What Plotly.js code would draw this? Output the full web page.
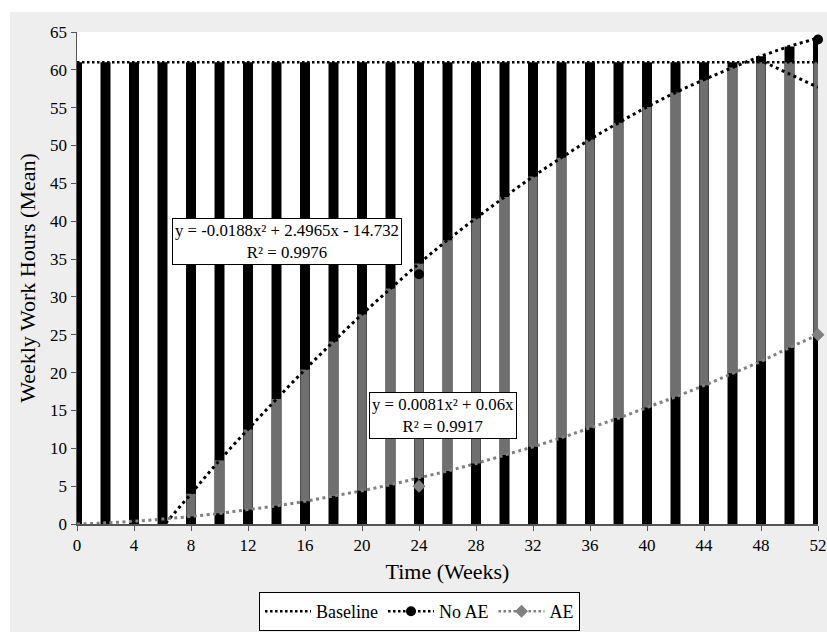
<!DOCTYPE html>
<html>
<head>
<meta charset="utf-8">
<script src="https://cdn.plot.ly/plotly-3.0.1.min.js"></script>
<style>
  html, body { margin: 0; padding: 0; background: #ffffff; width: 827px; height: 632px; overflow: hidden; }
  #chart { position: absolute; left: 10px; top: 12px; width: 817px; height: 620px; }
</style>
</head>
<body>
<div id="chart"></div>
<script>
// ---- data ----
const weeks = [0,2,4,6,8,10,12,14,16,18,20,22,24,26,28,30,32,34,36,38,40,42,44,46,48,50,52];
const baseline = [61,61,61,61,61,61,61,61,61,61,61,61,61,61,61,61,61,61,61,61,61,61,61,61,61,61,61];
// No AE fitted curve (y = -0.0188x² + 2.4965x - 14.732), values read at each week
const noAETrend = [-14.7,-9.8,-5.0,-0.4,4.0,8.4,12.5,16.5,20.4,24.1,27.7,31.1,34.4,37.5,40.4,43.2,45.9,48.4,50.8,53.0,55.1,57.0,58.7,60.3,61.8,63.1,64.2];
// AE fitted curve (y = 0.0081x² + 0.06x), values read at each week
const aeTrend = [0,0.15,0.37,0.65,1.0,1.4,1.9,2.4,3.0,3.7,4.4,5.2,6.1,7.0,8.0,9.1,10.2,11.4,12.7,14.0,15.4,16.8,18.3,19.9,21.5,23.3,25.0];
// observed means (blank = no observation)
const noAE = [null,null,null,null,null,null,null,null,null,null,null,null,33,null,null,null,null,null,null,null,null,null,null,null,null,null,64];
const ae   = [null,null,null,null,null,null,null,null,null,null,null,null,5,null,null,null,null,null,null,null,null,null,null,null,null,null,25];
// short descending dotted segment near the end
const tailX = [47.8, 52];
const tailY = [61.4, 57.7];
const xTicks = [0,4,8,12,16,20,24,28,32,36,40,44,48,52];
const yTicks = [0,5,10,15,20,25,30,35,40,45,50,55,60,65];
const eq1 = 'y = -0.0188x² + 2.4965x - 14.732<br>R² = 0.9976';
const eq2 = 'y = 0.0081x² + 0.06x<br>R² = 0.9917';

// ---- derived bar geometry ----
const blackTop = weeks.map((w, i) => Math.max(baseline[i], noAETrend[i]));
const greyTop = weeks.map((w, i) => Math.min(baseline[i], noAETrend[i]));
const greyBase = aeTrend.slice();
const greyH = weeks.map((w, i) => Math.max(0, greyTop[i] - greyBase[i]));

const FONT = 'Liberation Serif, Times New Roman, serif';

const traces = [
  { type: 'bar', x: weeks, y: blackTop, base: 0, width: 0.7,
    marker: { color: '#000000', line: { width: 0 } }, showlegend: false, hoverinfo: 'skip' },
  { type: 'bar', x: weeks, y: greyH, base: greyBase, width: 0.66,
    marker: { color: '#6f6f6f', line: { width: 0 } }, showlegend: false, hoverinfo: 'skip' },
  { type: 'scatter', mode: 'lines', x: weeks, y: baseline, name: 'Baseline',
    line: { color: '#000000', width: 2.5, dash: '2.5px,2.5px' } },
  { type: 'scatter', mode: 'lines', x: weeks, y: noAETrend, showlegend: false,
    line: { color: '#000000', width: 3, dash: '3px,3.5px', shape: 'spline' } },
  { type: 'scatter', mode: 'lines', x: tailX, y: tailY, showlegend: false,
    line: { color: '#000000', width: 3, dash: '3px,3.5px' } },
  { type: 'scatter', mode: 'lines', x: weeks, y: aeTrend, showlegend: false,
    line: { color: '#808080', width: 3, dash: '3px,3.5px', shape: 'spline' } },
  { type: 'scatter', mode: 'lines+markers', x: weeks, y: noAE, name: 'No AE', connectgaps: false,
    cliponaxis: false,
    line: { color: '#000000', width: 2.5, dash: '2.5px,2.5px' },
    marker: { color: '#000000', size: 10, symbol: 'circle' } },
  { type: 'scatter', mode: 'lines+markers', x: weeks, y: ae, name: 'AE', connectgaps: false,
    cliponaxis: false,
    line: { color: '#808080', width: 2.5, dash: '2.5px,2.5px' },
    marker: { color: '#808080', size: 10, symbol: 'diamond' } }
];

const layout = {
  width: 817, height: 620,
  margin: { l: 67, r: 9, t: 20, b: 108, autoexpand: false },
  paper_bgcolor: '#eeeeee',
  plot_bgcolor: '#ffffff',
  barmode: 'overlay',
  font: { family: FONT, color: '#000000', size: 17 },
  xaxis: {
    range: [0, 52], tickvals: xTicks, ticktext: xTicks.map(String), automargin: false,
    showgrid: false, zeroline: false, showline: true, linecolor: '#555555', linewidth: 1.5,
    ticks: 'outside', ticklen: 5, tickcolor: '#555555', tickfont: { size: 17, family: FONT },
    title: { text: 'Time (Weeks)', font: { size: 22, family: FONT }, standoff: 9 },
    fixedrange: true
  },
  yaxis: {
    range: [0, 65], tickvals: yTicks, ticktext: yTicks.map(String), automargin: false,
    showgrid: false, zeroline: false, showline: true, linecolor: '#555555', linewidth: 1.5,
    ticks: 'outside', ticklen: 5, tickcolor: '#555555', tickfont: { size: 17, family: FONT },
    title: { text: 'Weekly Work Hours (Mean)', font: { size: 22, family: FONT }, standoff: 8 },
    fixedrange: true
  },
  showlegend: true,
  legend: {
    orientation: 'h', xref: 'container', x: 0.3048, xanchor: 'left',
    yref: 'container', y: 0.0645, yanchor: 'top',
    bgcolor: '#ffffff', bordercolor: '#000000', borderwidth: 1,
    font: { size: 18, family: FONT }, itemwidth: 46, tracegroupgap: 0
  },
  annotations: [
    { xref: 'x', yref: 'y', x: 14.74, y: 37.26, text: eq1, showarrow: false,
      font: { size: 16.8, family: FONT }, bgcolor: '#ffffff', bordercolor: '#000000',
      borderwidth: 1, borderpad: 2, align: 'center' },
    { xref: 'x', yref: 'y', x: 25.68, y: 14.4, text: eq2, showarrow: false,
      font: { size: 16.8, family: FONT }, bgcolor: '#ffffff', bordercolor: '#000000',
      borderwidth: 1, borderpad: 2, align: 'center' }
  ]
};

Plotly.newPlot('chart', traces, layout, { staticPlot: true, displayModeBar: false });
</script>
</body>
</html>
